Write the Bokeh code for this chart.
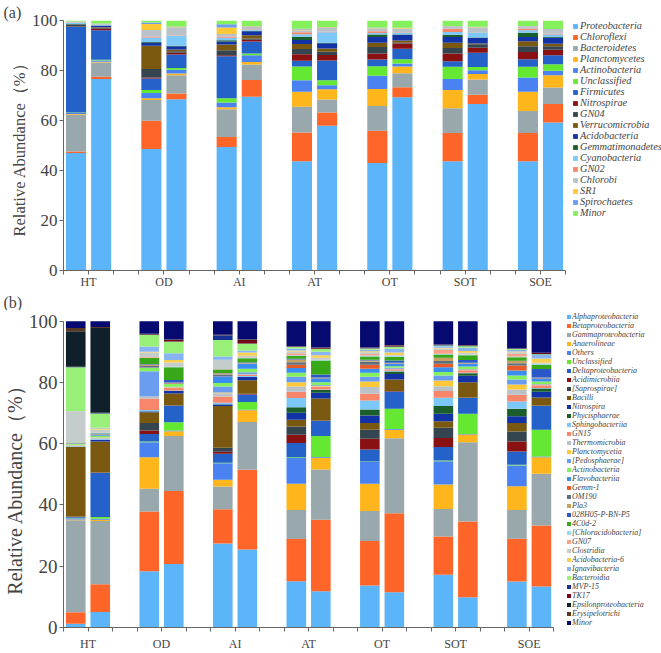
from bokeh.plotting import figure
from bokeh.models import ColumnDataSource, Legend, LegendItem, FixedTicker, Range1d, Title
from bokeh.layouts import column
from bokeh.embed import file_html
from bokeh.resources import INLINE

groups = ["HT", "OD", "AI", "AT", "OT", "SOT", "SOE"]
reps = ["1", "2"]
samples = [g + r for g in groups for r in reps]

# ---------------- panel (a): phyla ----------------
phyla = ["Proteobacteria", "Chloroflexi", "Bacteroidetes", "Planctomycetes", "Actinobacteria",
         "Unclassified", "Firmicutes", "Nitrospirae", "GN04", "Verrucomicrobia", "Acidobacteria",
         "Gemmatimonadetes", "Cyanobacteria", "GN02", "Chlorobi", "SR1", "Spirochaetes", "Minor"]
phyla_colors = ["#5CB5F9", "#FF6428", "#98A8AC", "#FFB51C", "#4A82F2", "#64E832", "#2461C9",
                "#8A1111", "#34454F", "#7A5810", "#1233A6", "#1A5E2C", "#7CC8F8", "#F8866A",
                "#B8C2C8", "#FFC838", "#6A9CF0", "#84F05C"]

a_HT1 = [47.0, 0.6, 14.7, 0.3, 0.4, 0.2, 34.3, 0.1, 0.6, 0.2, 0.1, 0.1, 0.5, 0.1, 0.2, 0.1, 0.1, 0.4]
a_HT2 = [76.6, 0.9, 5.7, 0.3, 0.5, 0.3, 11.8, 0.7, 0.3, 0.2, 0.6, 0.1, 0.2, 0.1, 0.3, 0.1, 0.1, 1.2]
a_OD1 = [48.6, 11.3, 8.3, 0.7, 2.1, 1.2, 4.6, 0.4, 3.4, 9.3, 1.2, 0.3, 1.8, 0.4, 2.6, 2.4, 0.6, 0.8]
a_OD2 = [68.5, 2.3, 7.3, 0.7, 1.5, 0.7, 5.4, 0.7, 0.6, 0.7, 1.3, 0.2, 3.9, 0.2, 3.3, 0.2, 0.1, 2.4]
a_AI1 = [49.4, 4.0, 11.1, 0.8, 1.9, 1.7, 16.8, 0.4, 2.0, 2.3, 1.2, 0.5, 1.0, 0.5, 1.0, 2.6, 1.3, 1.5]
a_AI2 = [69.5, 6.7, 6.2, 1.0, 2.7, 0.7, 4.8, 0.7, 0.5, 1.3, 1.6, 0.2, 0.4, 0.2, 1.0, 0.2, 0.1, 2.2]
a_AT1 = [43.7, 11.5, 10.3, 6.0, 4.6, 5.5, 2.3, 2.6, 2.1, 2.0, 1.6, 1.3, 1.0, 0.8, 0.8, 0.3, 0.3, 3.3]
a_AT2 = [57.9, 5.3, 5.2, 4.1, 1.6, 2.0, 7.9, 2.2, 1.3, 1.3, 2.1, 0.2, 4.2, 0.2, 1.6, 0.2, 0.1, 2.6]
a_OT1 = [43.0, 12.9, 9.9, 6.8, 5.3, 3.8, 2.7, 2.4, 2.6, 1.7, 2.3, 1.0, 0.6, 0.7, 1.2, 0.2, 0.1, 2.8]
a_OT2 = [69.3, 4.0, 5.6, 2.7, 1.2, 1.7, 4.2, 2.1, 0.3, 0.9, 2.2, 0.2, 0.6, 0.2, 1.6, 0.2, 0.1, 2.9]
a_SOT1 = [43.7, 11.3, 9.9, 7.3, 4.4, 4.9, 2.2, 3.1, 2.2, 2.1, 2.3, 0.9, 1.1, 1.3, 0.9, 0.1, 0.1, 2.2]
a_SOT2 = [66.6, 3.7, 6.1, 2.2, 1.5, 1.3, 5.7, 2.0, 1.4, 0.3, 2.2, 0.2, 2.0, 0.1, 2.0, 0.1, 0.1, 2.5]
a_SOE1 = [43.7, 11.3, 8.8, 7.7, 5.7, 4.3, 3.0, 2.9, 2.3, 2.0, 1.7, 1.7, 1.0, 0.6, 0.9, 0.1, 0.1, 2.2]
a_SOE2 = [59.2, 7.4, 6.6, 4.9, 1.8, 2.6, 3.6, 2.2, 1.4, 1.0, 2.4, 0.3, 1.0, 0.3, 1.5, 0.2, 0.2, 3.4]

a_samples = {"HT1": a_HT1, "HT2": a_HT2, "OD1": a_OD1, "OD2": a_OD2, "AI1": a_AI1, "AI2": a_AI2,
             "AT1": a_AT1, "AT2": a_AT2, "OT1": a_OT1, "OT2": a_OT2, "SOT1": a_SOT1, "SOT2": a_SOT2,
             "SOE1": a_SOE1, "SOE2": a_SOE2}

# ---------------- panel (b): classes ----------------
classes = ["Alphaproteobacteria", "Betaproteobacteria", "Gammaproteobacteria", "Anaerolineae", "Others",
           "Unclassified", "Deltaproteobacteria", "Acidimicrobiia", "[Saprospirae]", "Bacilli",
           "Nitrospira", "Phycisphaerae", "Sphingobacteriia", "GN15", "Thermomicrobia",
           "Planctomycetia", "[Pedosphaerae]", "Actinobacteria", "Flavobacteriia", "Gemm-1", "OM190",
           "Pla3", "028H05-P-BN-P5", "4C0d-2", "[Chloracidobacteria]", "GN07", "Clostridia",
           "Acidobacteria-6", "Ignavibacteria", "Bacteroidia", "MVP-15", "TK17",
           "Epsilonproteobacteria", "Erysipelotrichi", "Minor"]
class_colors = ["#5CB5F9", "#FF6428", "#98A8AC", "#FFB51C", "#4A82F2", "#64E832", "#2461C9",
                "#8A1111", "#34454F", "#7A5810", "#1233A6", "#1A5E2C", "#7CC8F8", "#F8866A",
                "#B8C2C8", "#FFC838", "#6A9CF0", "#84F05C", "#3A8EF0", "#E85A28", "#5C7080",
                "#C8A060", "#2A58C8", "#38A818", "#98D8F0", "#F8A088", "#C4CCCC", "#F8D050",
                "#88B4F4", "#98F078", "#143090", "#700818", "#10202A", "#583820", "#060A70"]

b_HT1 = [1.2, 3.8, 30.0, 0.3, 0.4, 0.1, 0.3, 0.05, 0.05, 22.7, 0.1, 0.05, 0.1, 0.05, 0.3, 0.05, 0.1,
         0.3, 0.2, 0.05, 0.05, 0.05, 0.05, 0.05, 0.05, 0.05, 10.0, 0.1, 0.1, 14.3, 0.05, 0.05, 11.6, 1.1, 2.2]
b_HT2 = [5.1, 9.0, 20.7, 0.4, 0.3, 0.6, 14.3, 0.1, 0.1, 10.1, 0.5, 0.1, 0.3, 0.1, 0.2, 0.1, 0.1,
         0.5, 0.3, 0.1, 0.1, 0.1, 0.1, 0.1, 0.1, 0.1, 1.0, 0.4, 0.2, 4.7, 0.1, 0.1, 27.7, 0.3, 1.9]
b_OD1 = [18.4, 19.5, 7.4, 10.3, 4.9, 0.2, 2.5, 1.1, 2.5, 3.5, 0.2, 0.1, 0.4, 3.8, 0.5, 0.1, 8.3,
         1.0, 0.2, 0.1, 0.4, 0.5, 0.1, 2.0, 0.1, 0.2, 1.5, 0.2, 1.7, 3.8, 0.1, 0.1, 0.1, 0.1, 4.1]
b_OD2 = [20.7, 23.9, 17.9, 1.6, 0.2, 2.7, 5.4, 0.1, 0.1, 3.8, 0.8, 0.1, 0.1, 0.8, 0.1, 0.1, 0.2,
         0.9, 0.2, 0.1, 0.1, 0.1, 0.8, 4.2, 0.2, 0.1, 1.2, 0.8, 2.2, 3.8, 0.1, 0.5, 0.05, 0.05, 6.0]
b_AI1 = [27.4, 11.2, 7.4, 2.2, 5.4, 0.2, 2.9, 0.7, 1.3, 13.6, 0.5, 0.1, 0.5, 2.0, 1.1, 0.2, 2.0,
         1.1, 2.2, 0.1, 0.5, 0.4, 0.1, 1.1, 0.1, 0.1, 2.9, 0.1, 1.1, 5.4, 1.4, 0.1, 0.1, 0.1, 4.4]
b_AI2 = [25.5, 26.0, 15.6, 3.8, 0.2, 2.5, 2.5, 0.1, 0.1, 4.4, 1.1, 0.1, 0.2, 0.3, 0.2, 0.1, 0.6,
         1.2, 1.6, 0.1, 0.1, 0.1, 0.2, 1.3, 0.2, 0.1, 0.5, 1.1, 0.6, 2.2, 0.1, 1.2, 0.1, 0.1, 5.9]
b_AT1 = [15.1, 13.8, 9.5, 8.5, 8.4, 0.3, 4.6, 2.7, 2.7, 2.2, 2.3, 1.8, 3.0, 2.1, 1.7, 1.4, 1.8,
         1.3, 1.5, 1.1, 0.8, 0.9, 0.2, 0.9, 0.3, 0.6, 0.6, 0.3, 0.7, 0.5, 0.1, 0.1, 0.05, 0.05, 8.1]
b_AT2 = [11.8, 23.4, 16.4, 3.8, 0.3, 6.8, 4.9, 0.1, 0.1, 7.2, 1.8, 0.9, 0.2, 0.8, 0.2, 0.2, 0.3,
         0.9, 1.2, 0.1, 0.1, 0.1, 1.0, 4.6, 0.3, 0.1, 0.5, 0.8, 1.1, 0.9, 0.1, 0.3, 0.05, 0.05, 8.6]
b_OT1 = [13.7, 14.5, 9.8, 8.9, 7.1, 0.2, 3.9, 3.5, 3.0, 2.2, 2.4, 2.0, 2.9, 2.2, 2.2, 1.8, 1.6,
         1.3, 1.3, 1.3, 1.0, 0.4, 0.2, 1.1, 0.3, 0.5, 0.6, 0.3, 0.5, 0.4, 0.1, 0.1, 0.05, 0.05, 8.6]
b_OT2 = [11.5, 25.8, 24.5, 2.8, 0.2, 6.6, 5.6, 0.1, 0.1, 3.8, 1.8, 0.8, 0.2, 0.5, 0.1, 0.1, 0.3,
         0.5, 0.8, 0.1, 0.1, 0.1, 0.8, 1.2, 0.2, 0.1, 0.3, 0.8, 1.2, 0.6, 0.1, 0.4, 0.05, 0.05, 7.8]
b_SOT1 = [17.2, 12.5, 9.0, 8.0, 7.6, 0.2, 4.4, 3.0, 3.3, 2.1, 2.5, 2.5, 2.7, 2.2, 1.6, 1.8, 1.7,
          1.1, 1.6, 1.1, 0.9, 1.0, 0.1, 1.0, 0.3, 1.2, 0.5, 0.2, 0.5, 0.3, 0.1, 0.1, 0.05, 0.05, 7.6]
b_SOT2 = [9.9, 24.7, 25.9, 2.5, 0.2, 6.6, 5.1, 0.1, 0.1, 5.0, 2.1, 0.8, 0.2, 0.8, 0.1, 0.1, 0.2,
          0.8, 0.9, 0.1, 0.1, 0.1, 0.9, 1.6, 0.2, 0.1, 0.5, 0.6, 1.0, 0.5, 0.1, 0.2, 0.05, 0.05, 7.8]
b_SOE1 = [15.0, 14.0, 9.4, 7.7, 6.8, 0.2, 4.4, 3.2, 3.3, 2.8, 2.2, 2.4, 2.4, 2.2, 1.7, 1.6, 1.7,
          1.3, 1.6, 1.6, 0.8, 0.7, 0.1, 1.1, 0.3, 0.8, 0.6, 0.2, 0.5, 0.3, 0.1, 0.1, 0.05, 0.05, 8.8]
b_SOE2 = [13.4, 19.9, 16.9, 5.4, 0.2, 8.8, 7.7, 0.1, 0.1, 2.6, 1.9, 1.0, 0.2, 0.9, 0.1, 0.1, 0.2,
          0.8, 1.0, 0.1, 0.1, 0.1, 2.8, 1.4, 0.2, 0.1, 0.3, 1.4, 1.2, 0.2, 0.1, 0.3, 0.05, 0.05, 10.3]

b_samples = {"HT1": b_HT1, "HT2": b_HT2, "OD1": b_OD1, "OD2": b_OD2, "AI1": b_AI1, "AI2": b_AI2,
             "AT1": b_AT1, "AT2": b_AT2, "OT1": b_OT1, "OT2": b_OT2, "SOT1": b_SOT1, "SOT2": b_SOT2,
             "SOE1": b_SOE1, "SOE2": b_SOE2}

y_ticks = [0, 20, 40, 60, 80, 100]
SERIF = "Liberation Serif"
Y_LABEL = "Relative Abundance\uff08%\uff09"


def tag_title(text, standoff):
    return Title(text=text, align="left", offset=-60, standoff=standoff, text_font=SERIF,
                 text_font_style="normal", text_font_size="16px")


def make_panel(cat_names, cat_colors, sample_lists, height, b_top, b_bottom, x_end, y_end,
               tick_size, ylab_text, ylab_size, xlab_size, xlab_standoff,
               leg_font, leg_glyph, leg_standoff, leg_spacing, leg_loc):
    keys = ["c%d" % i for i in range(len(cat_names))]
    data = {"x": [3 * (j // 2) + (j % 2) + 0.5 for j in range(len(samples))]}
    for i, k in enumerate(keys):
        data[k] = [sample_lists[s][i] for s in samples]
    src = ColumnDataSource(data)

    p = figure(width=661, height=height, x_range=Range1d(0, x_end), y_range=Range1d(0, y_end),
               output_backend="svg", toolbar_location=None, title=None,
               min_border_left=62, min_border_right=0,
               min_border_top=b_top, min_border_bottom=b_bottom)
    rs = p.vbar_stack(keys, x="x", width=0.8, source=src, fill_color=cat_colors, line_color=None)

    p.xgrid.visible = False
    p.ygrid.visible = False
    p.outline_line_color = None

    p.xaxis.ticker = FixedTicker(ticks=list(range(21)))
    p.xaxis.bounds = (0, 20)
    overrides = {t: "" for t in range(21)}
    for g, name in enumerate(groups):
        overrides[3 * g + 1] = name
    p.xaxis.major_label_overrides = overrides
    p.yaxis.ticker = FixedTicker(ticks=y_ticks)
    p.yaxis.bounds = (0, 100)

    for ax in (p.xaxis[0], p.yaxis[0]):
        ax.axis_line_color = "#666666"
        ax.major_tick_line_color = "#666666"
        ax.minor_tick_line_color = None
        ax.major_tick_in = 0
        ax.major_tick_out = 4
    p.xaxis.major_label_text_font = SERIF
    p.xaxis.major_label_text_font_size = xlab_size
    p.xaxis.major_label_standoff = xlab_standoff
    p.yaxis.major_label_text_font = SERIF
    p.yaxis.major_label_text_font_size = tick_size
    p.yaxis.major_label_standoff = 2
    p.yaxis.axis_label = ylab_text
    p.yaxis.axis_label_text_font = SERIF
    p.yaxis.axis_label_text_font_style = "normal"
    p.yaxis.axis_label_text_font_size = ylab_size
    p.yaxis.axis_label_standoff = 0

    items = [LegendItem(label=n, renderers=[r]) for n, r in zip(cat_names, rs)]
    leg = Legend(items=items, location=leg_loc, orientation="vertical",
                 spacing=leg_spacing, padding=0, margin=0,
                 glyph_width=leg_glyph, glyph_height=leg_glyph, label_standoff=leg_standoff,
                 label_height=4, label_width=10,
                 label_text_font=SERIF, label_text_font_style="italic",
                 label_text_font_size=leg_font, border_line_color=None,
                 background_fill_alpha=0)
    p.add_layout(leg)
    return p


# panel (a): frame 62..661 x 20..272 ; 25.15 px per bar slot
pa = make_panel(phyla, phyla_colors, a_samples, 310, 20, 38, 23.82, 100,
                "17px", Y_LABEL, "16.5px", "12px", 0,
                "10.3px", 6, 2, 0, (509, 52))
pa.add_layout(tag_title("(a)", 0), "above")
pa.add_layout(tag_title("(b)", 0), "below")

# panel (b): frame 62..661 x 312..627 ; 24.55 px per bar slot
pb = make_panel(classes, class_colors, b_samples, 343, 2, 26, 24.4, 102.84,
                "19px", Y_LABEL + "\u2002\u2002\u2002", "20px", "12px", 5,
                "8px", 5, 1, 0, (503, 0))

layout = column(pa, pb, spacing=0)
open("out.html", "w").write(file_html(layout, INLINE))
